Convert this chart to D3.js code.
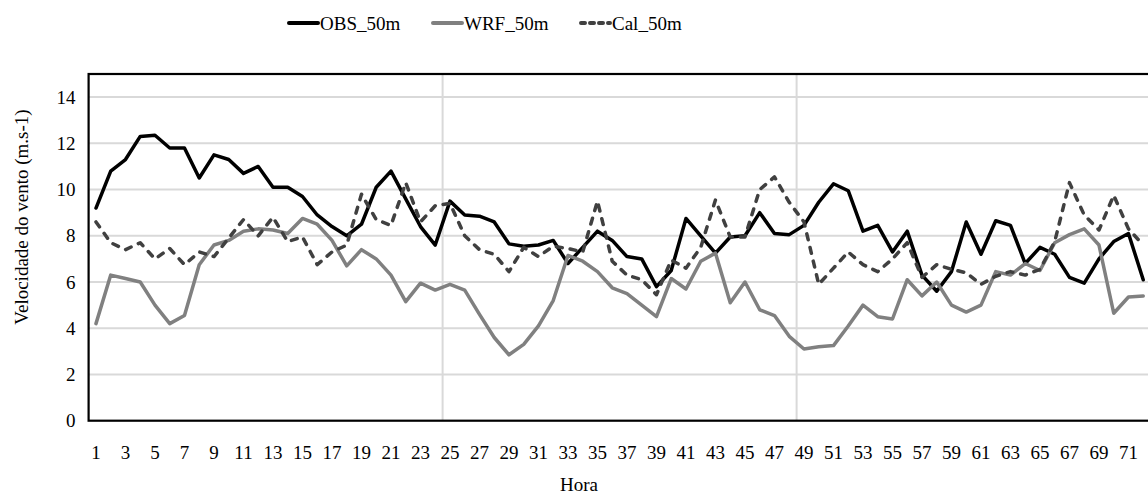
<!DOCTYPE html>
<html>
<head>
<meta charset="utf-8">
<script src="https://cdn.jsdelivr.net/npm/d3@7"></script>
<style>
  body { margin: 0; background: #fff; }
  svg text { font-family: "Liberation Serif", "DejaVu Serif", serif; }
</style>
</head>
<body>
<div class="chart"></div>
<script>
const hours = d3.range(1, 73);

const obs = [9.2, 10.8, 11.3, 12.3, 12.35, 11.8, 11.8, 10.5, 11.5, 11.3, 10.7, 11.0, 10.1, 10.1, 9.7, 8.9, 8.4, 8.0,
  8.5, 10.1, 10.8, 9.6, 8.4, 7.6, 9.5, 8.9, 8.85, 8.6, 7.65, 7.55, 7.6, 7.8, 6.8, 7.5, 8.2, 7.8,
  7.1, 7.0, 5.8, 6.5, 8.75, 8.0, 7.25, 7.95, 8.0, 9.0, 8.1, 8.05, 8.45, 9.45, 10.25, 9.95, 8.2, 8.45,
  7.3, 8.2, 6.3, 5.6, 6.45, 8.6, 7.2, 8.65, 8.45, 6.8, 7.5, 7.2, 6.2, 5.95, 7.0, 7.75, 8.1, 6.1];

const wrf = [4.2, 6.3, 6.15, 6.0, 5.0, 4.2, 4.55, 6.75, 7.6, 7.8, 8.2, 8.3, 8.25, 8.1, 8.75, 8.5, 7.8, 6.7,
  7.4, 7.0, 6.3, 5.15, 5.95, 5.65, 5.9, 5.65, 4.6, 3.6, 2.85, 3.3, 4.1, 5.2, 7.15, 6.9, 6.45, 5.75,
  5.5, 5.0, 4.5, 6.15, 5.7, 6.9, 7.25, 5.1, 6.0, 4.8, 4.55, 3.65, 3.1, 3.2, 3.25, 4.1, 5.0, 4.5,
  4.4, 6.1, 5.4, 6.0, 5.0, 4.7, 5.0, 6.45, 6.3, 6.8, 6.5, 7.7, 8.05, 8.3, 7.6, 4.65, 5.35, 5.4];

const cal = [8.6, 7.7, 7.4, 7.7, 7.0, 7.45, 6.75, 7.3, 7.1, 7.9, 8.7, 8.0, 8.8, 7.75, 7.95, 6.75, 7.3, 7.6,
  9.8, 8.7, 8.45, 10.3, 8.6, 9.3, 9.4, 8.0, 7.4, 7.2, 6.45, 7.5, 7.1, 7.55, 7.45, 7.3, 9.5, 6.9,
  6.3, 6.1, 5.45, 6.95, 6.6, 7.5, 9.55, 7.95, 7.95, 10.0, 10.55, 9.45, 8.6, 5.9, 6.6, 7.3, 6.75, 6.45,
  7.0, 7.7, 6.2, 6.75, 6.55, 6.4, 5.9, 6.25, 6.45, 6.3, 6.55, 7.75, 10.3, 8.9, 8.25, 9.75, 8.3, 7.6];

const yTicks = [0, 2, 4, 6, 8, 10, 12, 14];
const xTickLabels = hours.filter(h => h % 2 === 1);

const series = [
  { name: "OBS_50m", values: obs, color: "#000000", dash: null },
  { name: "WRF_50m", values: wrf, color: "#808080", dash: null },
  { name: "Cal_50m", values: cal, color: "#404040", dash: "6,8" }
];

const W = 1148, H = 497;
const plot = { left: 88.6, right: 1150.6, top: 74, bottom: 420.7 };
const serif = "Liberation Serif, DejaVu Serif, serif";

const svg = d3.select(".chart").append("svg")
    .attr("width", W)
    .attr("height", H)
    .attr("font-family", serif);

const x = d3.scaleBand()
    .domain(hours)
    .range([plot.left, plot.right])
    .paddingInner(0);

const y = d3.scaleLinear()
    .domain([0, 15])
    .range([plot.bottom, plot.top]);

// horizontal gridlines
svg.append("g")
  .selectAll("line")
    .data(yTicks.filter(d => d > 0))
    .enter()
    .append("line")
    .attr("x1", plot.left)
    .attr("x2", plot.right)
    .attr("y1", d => y(d))
    .attr("y2", d => y(d))
    .attr("stroke", "#d9d9d9")
    .attr("stroke-width", 2)

// vertical gridlines every 24 hours
svg.append("g")
  .selectAll("line")
    .data([25, 49])
    .enter()
    .append("line")
    .attr("x1", d => x(d))
    .attr("x2", d => x(d))
    .attr("y1", plot.top)
    .attr("y2", plot.bottom)
    .attr("stroke", "#d9d9d9")
    .attr("stroke-width", 2)

// plot frame
svg.append("rect")
    .attr("x", plot.left)
    .attr("y", plot.top)
    .attr("width", plot.right - plot.left)
    .attr("height", plot.bottom - plot.top)
    .attr("fill", "none")
    .attr("stroke", "#000")
    .attr("stroke-width", 2.2)

const xAxis = d3.axisBottom(x)
    .tickValues(xTickLabels)
    .tickSize(0)
    .tickPadding(25);

svg.append("g")
    .attr("class", "axis x-axis")
    .attr("transform", `translate(0, ${plot.bottom})`)
    .call(xAxis)
    .attr("font-family", serif)
    .call(g => g.select(".domain").remove())
    .selectAll("text")
    .attr("font-size", 19)
    .attr("fill", "#000")

const yAxis = d3.axisLeft(y)
    .tickValues(yTicks)
    .tickSize(0)
    .tickPadding(13);

svg.append("g")
    .attr("class", "axis y-axis")
    .attr("transform", `translate(${plot.left}, 0)`)
    .call(yAxis)
    .attr("font-family", serif)
    .call(g => g.select(".domain").remove())
    .selectAll("text")
    .attr("font-size", 19)
    .attr("fill", "#000")

const line = d3.line()
    .x((d, i) => x(hours[i]) + x.bandwidth() / 2)
    .y(d => y(d));

series.forEach(s => {
  svg.append("path")
      .datum(s.values)
      .attr("fill", "none")
      .attr("stroke", s.color)
      .attr("stroke-width", 3.5)
      .attr("stroke-linejoin", "round")
      .attr("stroke-linecap", "round")
      .attr("stroke-dasharray", s.dash)
      .attr("d", line);
});

// axis titles
svg.append("text")
    .attr("transform", "translate(28, 217) rotate(-90)")
    .attr("text-anchor", "middle")
    .attr("font-size", 19)
    .text("Velocidade do vento (m.s-1)")

svg.append("text")
    .attr("x", 579)
    .attr("y", 491)
    .attr("text-anchor", "middle")
    .attr("font-size", 19)
    .text("Hora")

// legend
const legendX = [287, 431, 579];
const legend = svg.append("g");
series.forEach((s, i) => {
  const lg = legend.append("g").attr("transform", `translate(${legendX[i]}, 23)`);
  lg.append("line")
      .attr("x1", 2).attr("x2", 31)
      .attr("stroke", s.color)
      .attr("stroke-width", 4)
      .attr("stroke-linecap", "round")
      .attr("stroke-dasharray", s.dash ? "4,5" : null)
  lg.append("text")
      .attr("x", 33)
      .attr("dy", "0.35em")
      .attr("font-size", 19)
      .text(s.name)
});
</script>
</body>
</html>
